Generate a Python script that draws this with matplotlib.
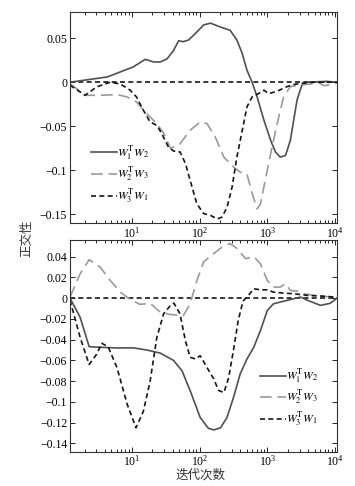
import matplotlib
matplotlib.use('Agg')
import matplotlib.pyplot as plt
from matplotlib.ticker import FuncFormatter, LogLocator

plt.rcParams['font.family'] = ['Liberation Serif', 'DejaVu Serif']
plt.rcParams['mathtext.fontset'] = 'stix'
plt.rcParams['axes.unicode_minus'] = True

labels = [r'$W_1^{\mathrm{T}}W_2$', r'$W_2^{\mathrm{T}}W_3$', r'$W_3^{\mathrm{T}}W_1$']

# top panel
top_x12 = [1.22, 4.34, 10.5, 15.8, 20.9, 26.3, 33.1, 41.2, 49, 57.5, 69.2, 91.2, 115, 145,
           204, 282, 355, 427, 501, 596, 708, 891, 1122, 1318, 1549, 1862, 2188, 2455, 2754,
           3236, 3890, 5495, 7500, 10715]
top_y12 = [0.0, 0.006, 0.0174, 0.026, 0.023, 0.023, 0.0265, 0.036, 0.047, 0.046, 0.048, 0.057,
           0.065, 0.067, 0.0625, 0.059, 0.048, 0.0326, 0.0136, 0.0, -0.0167, -0.043, -0.066,
           -0.079, -0.085, -0.083, -0.066, -0.043, -0.020, -0.0034, 0.0, 0.0005, 0.001, 0.0]

top_x23 = [1.22, 2.04, 3.39, 6.03, 8.51, 11.7, 16.6, 23.4, 29.5, 37.2, 51.3, 72.4, 102, 129,
           170, 229, 316, 398, 501, 596, 708, 794, 933, 1175, 1479, 1738, 2188, 3090, 4365,
           5495, 6918, 8710, 10715]
top_y23 = [-0.0015, -0.0148, -0.0148, -0.014, -0.0167, -0.0224, -0.0356, -0.047, -0.058,
           -0.075, -0.070, -0.0545, -0.045, -0.047, -0.062, -0.085, -0.096, -0.102, -0.104,
           -0.126, -0.1436, -0.138, -0.111, -0.0735, -0.039, -0.0167, -0.005, -0.003, -0.002,
           0.0, -0.004, -0.0025, -0.001]

top_x31 = [1.22, 2.04, 3.02, 4.79, 6.76, 9.44, 11.7, 14.8, 18.6, 23.4, 27.5, 34.7, 41.2, 51.3,
           61.7, 72.4, 91.2, 115, 145, 182, 214, 254, 302, 355, 427, 501, 596, 741, 891, 1047,
           1380, 1950, 2455, 3090, 4365, 10715]
top_y31 = [-0.0034, -0.0148, -0.0053, 0.0, -0.002, -0.009, -0.0167, -0.0318, -0.045, -0.049,
           -0.058, -0.0735, -0.078, -0.079, -0.092, -0.111, -0.138, -0.149, -0.151, -0.155,
           -0.153, -0.142, -0.119, -0.085, -0.0545, -0.028, -0.0167, -0.0129, -0.009, -0.0129,
           -0.0104, -0.005, -0.0026, -0.0015, 0.0, 0.0]

# bottom panel
bot_x12 = [1.22, 1.72, 2.34, 3.39, 6.03, 10.6, 16.6, 26.3, 41.2, 55, 72.4, 102, 135, 162,
           204, 254, 316, 398, 501, 631, 794, 1000, 1230, 1738, 2455, 3090, 3890, 6095,
           8511, 10715]
bot_y12 = [0.0, -0.0184, -0.0468, -0.0474, -0.048, -0.048, -0.050, -0.053, -0.060, -0.070,
           -0.089, -0.115, -0.1255, -0.127, -0.125, -0.115, -0.096, -0.073, -0.0587, -0.0474,
           -0.031, -0.012, -0.0055, -0.003, -0.0006, 0.001, -0.002, -0.007, -0.005, 0.0]

bot_x23 = [1.22, 1.72, 2.34, 3.39, 4.79, 6.76, 9.55, 13.2, 18.6, 26.3, 37.2, 57.5, 72.4, 91.2,
           115, 162, 214, 282, 355, 479, 631, 794, 1000, 1230, 1549, 1862, 2188, 2754, 3467,
           4898, 6918, 10000]
bot_y23 = [0.001, 0.0235, 0.037, 0.030, 0.017, 0.0058, -0.0016, -0.006, -0.005, -0.0135,
           -0.0158, -0.0168, -0.0055, 0.017, 0.035, 0.043, 0.049, 0.0526, 0.048, 0.038, 0.040,
           0.033, 0.017, 0.0106, 0.0106, 0.0139, 0.0074, 0.0068, 0.0042, 0.0026, 0.0016, 0.001]

bot_x31 = [1.22, 1.72, 2.34, 3.02, 3.59, 4.47, 6.03, 8.51, 11.5, 14.8, 18.6, 23.4, 29.5, 37.2,
           41.7, 51.3, 61.7, 72.4, 87.1, 102, 129, 162, 191, 229, 269, 316, 372, 437, 525,
           631, 794, 1000, 1230, 1738, 2455, 3890, 6166, 10000]
bot_y31 = [-0.002, -0.0377, -0.064, -0.054, -0.0435, -0.047, -0.067, -0.102, -0.125, -0.109,
           -0.080, -0.0377, -0.015, -0.007, -0.0048, -0.015, -0.041, -0.057, -0.0587, -0.0555,
           -0.067, -0.078, -0.089, -0.091, -0.0765, -0.0506, -0.0216, -0.003, 0.0026, 0.009,
           0.008, 0.008, 0.0058, 0.0048, 0.0042, 0.0026, 0.002, 0.001]

c12, c23, c31 = '#505050', '#9a9a9a', '#161616'
fs = 8.5


def yfmt(v, pos):
    s = f'{round(v, 3):g}'
    return s.replace('-', '\u2212')


def style_axes(ax, ylim, yticks):
    ax.set_xscale('log')
    ax.set_xlim(1.22, 10700)
    ax.set_ylim(*ylim)
    ax.set_yticks(yticks)
    ax.yaxis.set_major_formatter(FuncFormatter(yfmt))
    ax.xaxis.set_major_locator(LogLocator(base=10, numticks=10))
    ax.xaxis.set_minor_locator(LogLocator(base=10, subs=range(2, 10), numticks=20))
    ax.tick_params(which='both', direction='in', top=True, right=True, labelsize=fs,
                   width=0.6, pad=2)
    ax.tick_params(which='major', length=3.5)
    ax.tick_params(which='minor', length=2)
    for sp in ax.spines.values():
        sp.set_linewidth(0.8)
        sp.set_color('#333333')


def draw(ax, xs, ys):
    ax.axhline(0, color=c31, lw=1.2, dashes=(3, 2))
    ax.plot(xs[0], ys[0], color=c12, lw=1.2, label=labels[0])
    ax.plot(xs[1], ys[1], color=c23, lw=1.2, dashes=(7, 3.5), label=labels[1])
    ax.plot(xs[2], ys[2], color=c31, lw=1.2, dashes=(3, 2), label=labels[2])


fig = plt.figure(figsize=(3.55, 4.86), dpi=100)
ax1 = fig.add_axes([70 / 355, 1 - 223.3 / 486, 267 / 355, 211.6 / 486])
ax2 = fig.add_axes([70 / 355, 1 - 451.7 / 486, 267 / 355, 211.7 / 486])

draw(ax1, [top_x12, top_x23, top_x31], [top_y12, top_y23, top_y31])
style_axes(ax1, (-0.16, 0.08), [0.05, 0, -0.05, -0.1, -0.15])
ax1.legend(loc='upper left', bbox_to_anchor=(0.055, 0.405), frameon=False, fontsize=fs,
           handlelength=2.2, handletextpad=0.0, labelspacing=0.3, borderpad=0)

draw(ax2, [bot_x12, bot_x23, bot_x31], [bot_y12, bot_y23, bot_y31])
style_axes(ax2, (-0.148, 0.056), [0.04, 0.02, 0, -0.02, -0.04, -0.06, -0.08, -0.1, -0.12, -0.14])
ax2.legend(loc='upper left', bbox_to_anchor=(0.69, 0.43), frameon=False, fontsize=fs,
           handlelength=2.2, handletextpad=0.0, labelspacing=0.3, borderpad=0)

cjk = ['Noto Sans CJK SC', 'DejaVu Sans']
fig.text(200 / 355, 1 - 475 / 486, '迭代次数', ha='center', va='center', fontsize=9,
         family=cjk, color='#333333')
fig.text(27 / 355, 1 - 238 / 486, '正交性', ha='center', va='center', rotation=90,
         fontsize=9, family=cjk, color='#333333')

fig.savefig('out.png', dpi=100)
